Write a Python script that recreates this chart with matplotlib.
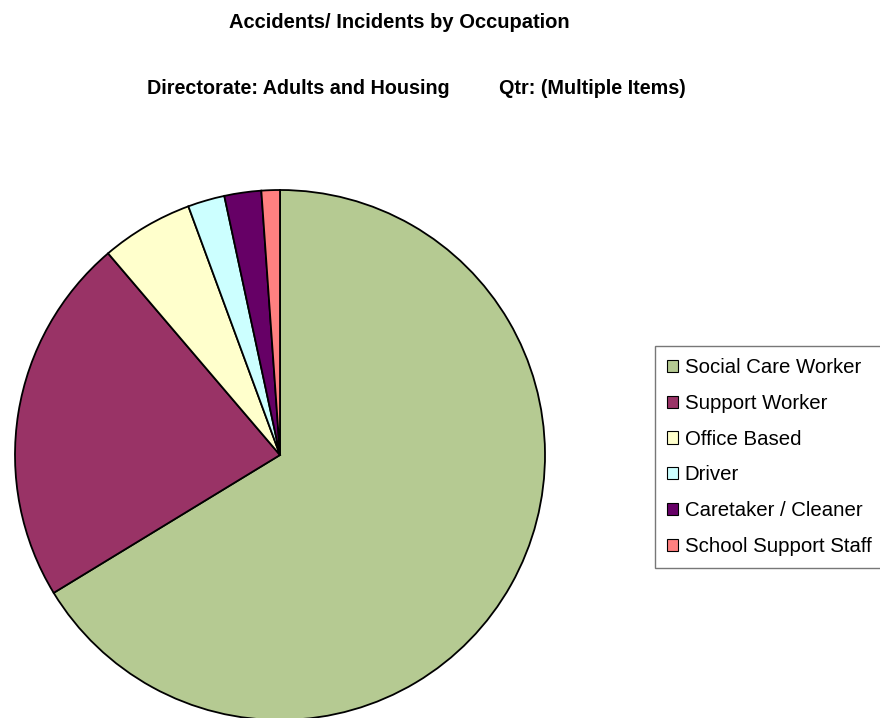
import matplotlib
matplotlib.use("Agg")
import matplotlib.pyplot as plt
from matplotlib.patches import Patch

plt.rcParams["font.family"] = ["Liberation Sans", "DejaVu Sans"]

occupations = ["Social Care Worker", "Support Worker", "Office Based",
               "Driver", "Caretaker / Cleaner", "School Support Staff"]
incidents = [59, 20, 5, 2, 2, 1]
colours = ["#B5CA92", "#993366", "#FFFFCC", "#CCFFFF", "#660066", "#FF8080"]

W, H = 880, 718
fig = plt.figure(figsize=(W / 100, H / 100), dpi=100)

# pie centred at (280, 455) px, radius 265 px
cx, cy, r = 280, 455, 265
ax = fig.add_axes([(cx - r) / W, (H - cy - r) / H, 2 * r / W, 2 * r / H])
ax.pie(incidents, colors=colours, startangle=90, counterclock=False,
       radius=1.0, wedgeprops=dict(edgecolor="black", linewidth=1.3))
ax.set_xlim(-1, 1)
ax.set_ylim(-1, 1)
ax.set_aspect("auto")
ax.axis("off")

fig.text(399 / W, 1 - 23 / H, "Accidents/ Incidents by Occupation",
         ha="center", va="center", fontsize=14.5, fontweight="bold")
fig.text(416 / W, 1 - 89 / H,
         "Directorate: Adults and Housing         Qtr: (Multiple Items)",
         ha="center", va="center", fontsize=14.2, fontweight="bold")

handles = [Patch(facecolor=c, edgecolor="black", linewidth=0.8) for c in colours]
leg = fig.legend(handles, occupations, loc="upper left",
                 bbox_to_anchor=(655 / W, 1 - 346 / H),
                 fontsize=14.7, frameon=True, fancybox=False,
                 edgecolor="#555555", handlelength=0.55, handleheight=0.55,
                 handletextpad=0.3, labelspacing=0.82, borderpad=0.6,
                 borderaxespad=0)
leg.get_frame().set_linewidth(1.0)

fig.savefig("out.png", dpi=100)
